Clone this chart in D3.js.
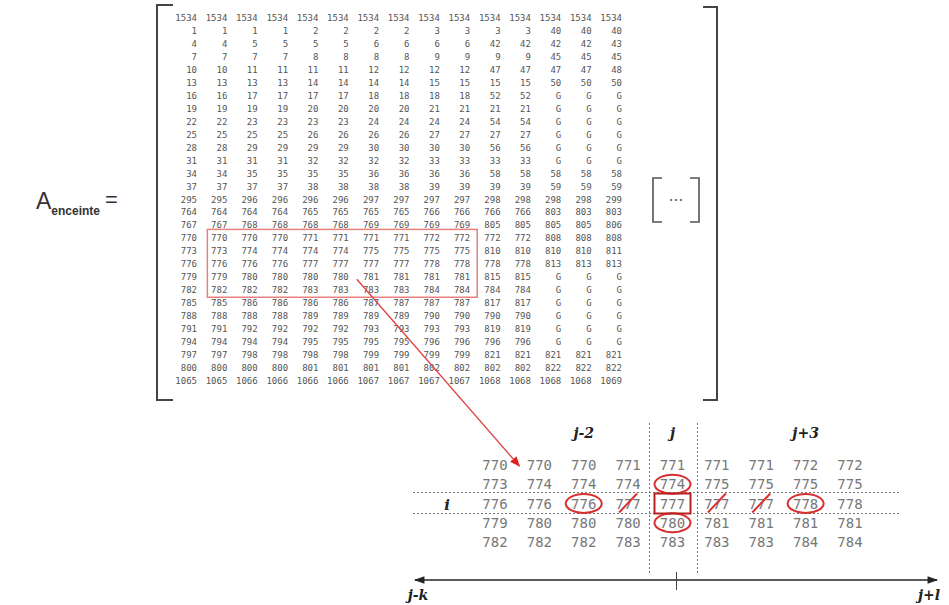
<!DOCTYPE html>
<html><head><meta charset="utf-8">
<script src="https://cdn.jsdelivr.net/npm/d3@7"></script>
<style>html,body{margin:0;padding:0;background:#fff;}svg{display:block;}</style>
</head><body>
<svg id="c" width="949" height="605"></svg>
<script>
// ---- data ----
const matrix = [
 ["1534","1534","1534","1534","1534","1534","1534","1534","1534","1534","1534","1534","1534","1534","1534"],
 ["1","1","1","1","2","2","2","2","3","3","3","3","40","40","40"],
 ["4","4","5","5","5","5","6","6","6","6","42","42","42","42","43"],
 ["7","7","7","7","8","8","8","8","9","9","9","9","45","45","45"],
 ["10","10","11","11","11","11","12","12","12","12","47","47","47","47","48"],
 ["13","13","13","13","14","14","14","14","15","15","15","15","50","50","50"],
 ["16","16","17","17","17","17","18","18","18","18","52","52","G","G","G"],
 ["19","19","19","19","20","20","20","20","21","21","21","21","G","G","G"],
 ["22","22","23","23","23","23","24","24","24","24","54","54","G","G","G"],
 ["25","25","25","25","26","26","26","26","27","27","27","27","G","G","G"],
 ["28","28","29","29","29","29","30","30","30","30","56","56","G","G","G"],
 ["31","31","31","31","32","32","32","32","33","33","33","33","G","G","G"],
 ["34","34","35","35","35","35","36","36","36","36","58","58","58","58","58"],
 ["37","37","37","37","38","38","38","38","39","39","39","39","59","59","59"],
 ["295","295","296","296","296","296","297","297","297","297","298","298","298","298","299"],
 ["764","764","764","764","765","765","765","765","766","766","766","766","803","803","803"],
 ["767","767","768","768","768","768","769","769","769","769","805","805","805","805","806"],
 ["770","770","770","770","771","771","771","771","772","772","772","772","808","808","808"],
 ["773","773","774","774","774","774","775","775","775","775","810","810","810","810","811"],
 ["776","776","776","776","777","777","777","777","778","778","778","778","813","813","813"],
 ["779","779","780","780","780","780","781","781","781","781","815","815","G","G","G"],
 ["782","782","782","782","783","783","783","783","784","784","784","784","G","G","G"],
 ["785","785","786","786","786","786","787","787","787","787","817","817","G","G","G"],
 ["788","788","788","788","789","789","789","789","790","790","790","790","G","G","G"],
 ["791","791","792","792","792","792","793","793","793","793","819","819","G","G","G"],
 ["794","794","794","794","795","795","795","795","796","796","796","796","G","G","G"],
 ["797","797","798","798","798","798","799","799","799","799","821","821","821","821","821"],
 ["800","800","800","800","801","801","801","801","802","802","802","802","822","822","822"],
 ["1065","1065","1066","1066","1066","1066","1067","1067","1067","1067","1068","1068","1068","1068","1069"]
];
const insetRowRange = [17, 21];   // rows of the highlighted block
const insetColRange = [1, 9];     // columns of the highlighted block
const headerLabels = ["j-2", "j", "j+3"];
const headerCols = [2, 4, 7];     // inset column index of each header
const rowLabel = "i";
const rowLabelRow = 2;
const circled = [[1,4],[2,2],[3,4],[2,7]];   // [row, col] in inset
const boxed = [[2,4]];
const struck = [[2,3],[2,5],[2,6]];
const axisLabels = ["j-k", "j+l"];
const titleMain = "A", titleSub = "enceinte";

// ---- drawing ----
const svg = d3.select("#c");
const defs = svg.append("defs");
defs.append("marker").attr("id","redhead").attr("viewBox","0 0 10 10").attr("refX",9).attr("refY",5)
  .attr("markerWidth",8).attr("markerHeight",8).attr("orient","auto-start-reverse")
  .append("path").attr("d","M0,1 L10,5 L0,9 z").attr("fill","#e02020");
defs.append("marker").attr("id","blackhead").attr("viewBox","0 0 10 10").attr("refX",9).attr("refY",5)
  .attr("markerWidth",10).attr("markerHeight",7).attr("orient","auto-start-reverse")
  .append("path").attr("d","M0,1.5 L10,5 L0,8.5 z").attr("fill","#222");

const nRows = matrix.length, nCols = matrix[0].length;
const x = d3.scaleLinear().domain([0, nCols-1]).range([197, 622]);
const y = d3.scaleLinear().domain([0, nRows-1]).range([18, 381]);

// title
const title = svg.append("text").attr("x", 36).attr("y", 209).attr("fill","#333")
  .style("font-family","Liberation Sans, Arial, sans-serif");
title.append("tspan").text(titleMain).style("font-size","23px");
title.append("tspan").text(titleSub).attr("dy", 6).style("font-size","12px").style("font-weight","bold");
svg.append("text").attr("x", 105).attr("y", 207).text("=").attr("fill","#333")
  .style("font-family","Liberation Sans, Arial, sans-serif").style("font-size","22px");

// matrix brackets
svg.append("path").attr("d","M173,5 H157 V400 H173").attr("fill","none").attr("stroke","#444").attr("stroke-width",2);
svg.append("path").attr("d","M703,7 H717 V400 H703").attr("fill","none").attr("stroke","#444").attr("stroke-width",2);

// matrix cells
const g = svg.append("g").style("font-family","DejaVu Sans Mono, monospace").style("font-size","9px").attr("fill","#555");
matrix.forEach((row, r) => {
  g.selectAll(null).data(row).enter().append("text")
    .attr("x", (d,i) => x(i)).attr("y", y(r)).attr("text-anchor","end").attr("dominant-baseline","central")
    .text(d => d);
});

// [ ... ]
svg.append("path").attr("d","M662,178 H653 V222 H662").attr("fill","none").attr("stroke","#555").attr("stroke-width",1.6);
svg.append("path").attr("d","M690,178 H699 V222 H690").attr("fill","none").attr("stroke","#555").attr("stroke-width",1.6);
svg.append("text").attr("x",676).attr("y",201).attr("text-anchor","middle").attr("dominant-baseline","central")
  .text("···").attr("fill","#555").style("font-family","DejaVu Sans, sans-serif").style("font-size","15px");

// red rectangle around block
svg.append("rect").attr("x", x(insetColRange[0]) - 20).attr("y", y(insetRowRange[0]) - 9)
  .attr("width", x(insetColRange[1]) + 7 - (x(insetColRange[0]) - 20))
  .attr("height", y(insetRowRange[1]) + 7 - (y(insetRowRange[0]) - 9))
  .attr("fill","none").attr("stroke","#e88080").attr("stroke-width",1.5);

// inset
const inset = matrix.slice(insetRowRange[0], insetRowRange[1]+1).map(r => r.slice(insetColRange[0], insetColRange[1]+1));
const ix = d3.scaleLinear().domain([0, inset[0].length-1]).range([495, 850]);
const iy = d3.scaleLinear().domain([0, inset.length-1]).range([465, 542]);

// red arrow from matrix to inset
svg.append("line").attr("x1", x(5)+8).attr("y1", y(20)+2).attr("x2", ix(1)-20).attr("y2", iy(0)+1)
  .attr("stroke","#e04040").attr("stroke-width",1.3).attr("marker-end","url(#redhead)");

// dotted guides
const dotted = svg.append("g").attr("stroke","#777").attr("stroke-width",1).attr("stroke-dasharray","2,2");
dotted.append("line").attr("x1", ix(4)-23).attr("x2", ix(4)-23).attr("y1", 423).attr("y2", 573);
dotted.append("line").attr("x1", ix(4)+25).attr("x2", ix(4)+25).attr("y1", 423).attr("y2", 573);
dotted.append("line").attr("x1", 413).attr("x2", 900).attr("y1", iy(2)-11).attr("y2", iy(2)-11);
dotted.append("line").attr("x1", 413).attr("x2", 900).attr("y1", iy(2)+10).attr("y2", iy(2)+10);

const ig = svg.append("g").style("font-family","DejaVu Sans Mono, monospace").style("font-size","14px").attr("fill","#777");
inset.forEach((row, r) => {
  ig.selectAll(null).data(row).enter().append("text")
    .attr("x", (d,i) => ix(i)).attr("y", iy(r)).attr("text-anchor","middle").attr("dominant-baseline","central")
    .text(d => d);
});

const serif = "DejaVu Serif, Liberation Serif, serif";
svg.selectAll(null).data(headerLabels).enter().append("text")
  .attr("x", (d,i) => ix(headerCols[i])).attr("y", 433).attr("text-anchor","middle").attr("dominant-baseline","central")
  .text(d => d).attr("fill","#222").style("font-family",serif).style("font-style","italic").style("font-weight","bold").style("font-size","14px");
svg.append("text").attr("x", 447).attr("y", iy(rowLabelRow)+1).attr("text-anchor","middle").attr("dominant-baseline","central")
  .text(rowLabel).attr("fill","#222").style("font-family",serif).style("font-style","italic").style("font-weight","bold").style("font-size","15px");

// red marks
const red = "#d83030";
svg.selectAll(null).data(circled).enter().append("ellipse")
  .attr("cx", d => ix(d[1])).attr("cy", d => iy(d[0])).attr("rx", 18).attr("ry", 9.5)
  .attr("fill","none").attr("stroke",red).attr("stroke-width",2);
svg.selectAll(null).data(boxed).enter().append("rect")
  .attr("x", d => ix(d[1])-18).attr("y", d => iy(d[0])-10).attr("width", 36).attr("height", 20)
  .attr("fill","none").attr("stroke","#b82020").attr("stroke-width",2);
svg.selectAll(null).data(struck).enter().append("line")
  .attr("x1", d => ix(d[1])-9).attr("y1", d => iy(d[0])+9).attr("x2", d => ix(d[1])+9).attr("y2", d => iy(d[0])-10)
  .attr("stroke",red).attr("stroke-width",2);

// horizontal axis arrow
svg.append("line").attr("x1", 415).attr("x2", 937).attr("y1", 580).attr("y2", 580)
  .attr("stroke","#222").attr("stroke-width",1.5)
  .attr("marker-start","url(#blackhead)").attr("marker-end","url(#blackhead)");
svg.append("line").attr("x1", ix(4)+4).attr("x2", ix(4)+4).attr("y1", 572).attr("y2", 590).attr("stroke","#444").attr("stroke-width",1);
svg.append("text").attr("x", 418).attr("y", 595).attr("text-anchor","middle").attr("dominant-baseline","central")
  .text(axisLabels[0]).attr("fill","#222").style("font-family",serif).style("font-style","italic").style("font-weight","bold").style("font-size","14px");
svg.append("text").attr("x", 929).attr("y", 595).attr("text-anchor","middle").attr("dominant-baseline","central")
  .text(axisLabels[1]).attr("fill","#222").style("font-family",serif).style("font-style","italic").style("font-weight","bold").style("font-size","14px");
</script>
</body></html>
